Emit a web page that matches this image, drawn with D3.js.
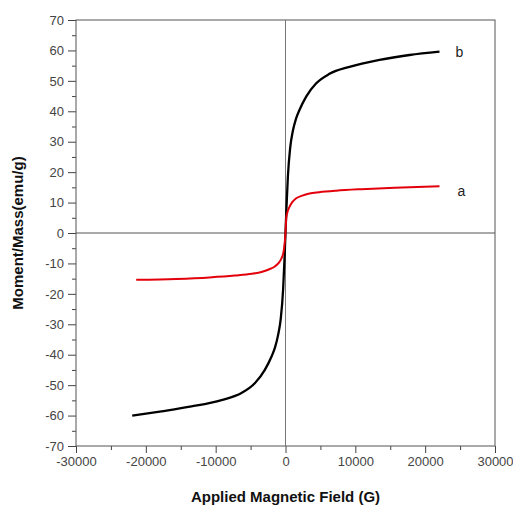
<!DOCTYPE html>
<html>
<head>
<meta charset="utf-8">
<script src="https://cdn.jsdelivr.net/npm/d3@7"></script>
<style>
  body { margin: 0; background: #fff; }
  text { font-family: "Liberation Sans", Arial, sans-serif; }
</style>
</head>
<body>
<div id="chart"></div>
<script>
// data
var fieldB = [-21950, -17760, -13460, -9160, -6300, -4400, -2960, -2000, -1500, -1050, -670, -340, -150, 0, 150, 340, 670, 1050, 1500, 2000, 2960, 4400, 6300, 9160, 13460, 17760, 22050];
var momentB = [-60, -58.6, -57, -54.9, -52.6, -49.4, -45, -40.6, -37.6, -33.4, -28, -18.5, -9, 0, 9, 18.5, 28, 33.5, 37.5, 40.4, 44.8, 49.2, 52.3, 54.6, 56.9, 58.5, 59.6];

var fieldA = [-21380, -15650, -10880, -7260, -4800, -3440, -2400, -1530, -1000, -570, -250, 0, 100, 250, 570, 1000, 1530, 2400, 3440, 4800, 7260, 10880, 15650, 22050];
var momentA = [-15.4, -15.1, -14.6, -14, -13.4, -12.8, -12, -11, -9.9, -8.3, -5.8, 0, 4.8, 6.6, 8.6, 10.2, 11.4, 12.3, 13.0, 13.4, 13.9, 14.4, 14.9, 15.4];

var xTicks = [-30000, -20000, -10000, 0, 10000, 20000, 30000];
var yTicks = [70, 60, 50, 40, 30, 20, 10, 0, -10, -20, -30, -40, -50, -60, -70];

var W = 513, H = 508;
var margin = { top: 20, right: 18, bottom: 62, left: 76 };
var width = W - margin.left - margin.right,
    height = H - margin.top - margin.bottom;

var svg = d3.select("#chart")
    .append("svg")
    .attr("width", W)
    .attr("height", H)
    .append("g")
    .attr("transform", "translate(" + margin.left + "," + margin.top + ")");

var xScale = d3.scaleLinear().domain([-30000, 30000]).range([0, width]);
var yScale = d3.scaleLinear().domain([-70, 70]).range([height, 0]);

// plain hyphen minus like the original
var fmt = d => String(d);

// minor ticks
svg.append("g")
    .attr("transform", "translate(0," + height + ")")
    .call(d3.axisBottom(xScale).tickValues(d3.range(-25000, 30000, 10000)).tickSize(4).tickFormat(""))
    .call(g => g.select(".domain").remove())
    .selectAll("line").attr("stroke", "#444");
svg.append("g")
    .call(d3.axisLeft(yScale).tickValues(d3.range(-65, 70, 10)).tickSize(4).tickFormat(""))
    .call(g => g.select(".domain").remove())
    .selectAll("line").attr("stroke", "#444");

// X axis
var xAxis = svg.append("g")
    .attr("transform", "translate(0," + height + ")")
    .call(d3.axisBottom(xScale).tickValues(xTicks).tickSize(7).tickPadding(4).tickFormat(fmt));
xAxis.select(".domain").remove();
xAxis.selectAll("line").attr("stroke", "#444");
xAxis.selectAll("text").attr("fill", "#444").style("font-size", "13px");

// Y axis
var yAxis = svg.append("g")
    .call(d3.axisLeft(yScale).tickValues(yTicks).tickSize(8).tickPadding(4).tickFormat(fmt));
yAxis.select(".domain").remove();
yAxis.selectAll("line").attr("stroke", "#444");
yAxis.selectAll("text").attr("fill", "#444").style("font-size", "13px");

// frame
svg.append("rect")
    .attr("x", 0).attr("y", 0)
    .attr("width", width).attr("height", height)
    .attr("fill", "none")
    .attr("stroke", "#555")
    .attr("stroke-width", 1);

// zero lines
svg.append("line")
    .attr("x1", 0).attr("x2", width)
    .attr("y1", yScale(0)).attr("y2", yScale(0))
    .attr("stroke", "#555");
svg.append("line")
    .attr("x1", xScale(0)).attr("x2", xScale(0))
    .attr("y1", 0).attr("y2", height)
    .attr("stroke", "#777");

// curves
var line = d3.line()
    .x(d => xScale(d[0]))
    .y(d => yScale(d[1]))
    .curve(d3.curveMonotoneX);

var dataB = fieldB.map((f, i) => [f, momentB[i]]);
var dataA = fieldA.map((f, i) => [f, momentA[i]]);

svg.append("path")
    .datum(dataB)
    .attr("d", line)
    .attr("fill", "none")
    .attr("stroke", "#000")
    .attr("stroke-width", 2.3);

svg.append("path")
    .datum(dataA)
    .attr("d", line)
    .attr("fill", "none")
    .attr("stroke", "#e3000b")
    .attr("stroke-width", 2);

// curve labels
svg.append("text")
    .attr("x", xScale(fieldB[fieldB.length - 1]) + 16)
    .attr("y", yScale(momentB[momentB.length - 1]) + 5)
    .style("font-size", "14px")
    .attr("fill", "#222")
    .text("b");
svg.append("text")
    .attr("x", xScale(fieldA[fieldA.length - 1]) + 18)
    .attr("y", yScale(momentA[momentA.length - 1]) + 10)
    .style("font-size", "14px")
    .attr("fill", "#222")
    .text("a");

// axis titles
svg.append("text")
    .attr("x", width / 2)
    .attr("y", height + 56)
    .attr("text-anchor", "middle")
    .style("font-size", "15px")
    .style("font-weight", "bold")
    .attr("fill", "#111")
    .text("Applied Magnetic Field (G)");

svg.append("text")
    .attr("transform", "translate(" + (-53) + "," + (height / 2) + ") rotate(-90)")
    .attr("text-anchor", "middle")
    .style("font-size", "15px")
    .style("font-weight", "bold")
    .attr("fill", "#111")
    .text("Moment/Mass(emu/g)");
</script>
</body>
</html>
